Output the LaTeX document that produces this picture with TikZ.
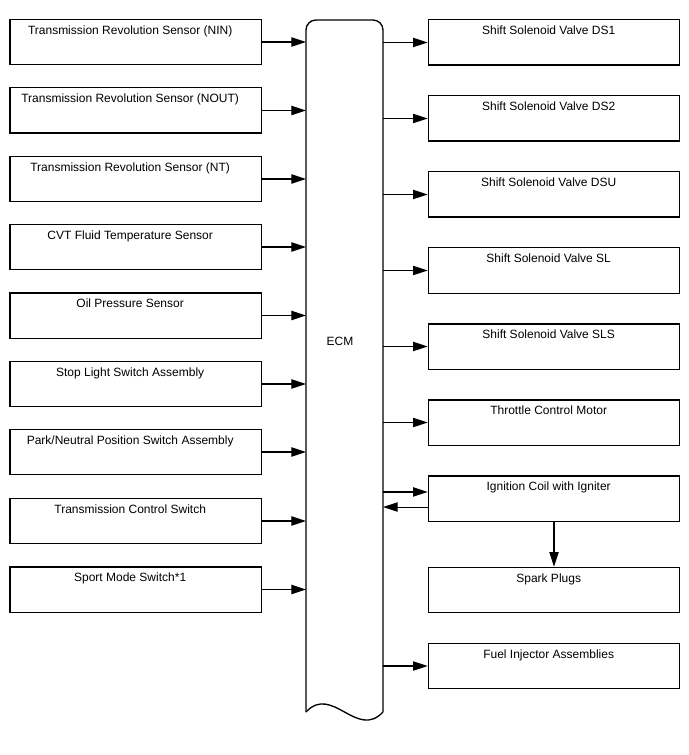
\documentclass[tikz,border=0pt]{standalone}
\usepackage{fontspec}
\setmainfont{Liberation Sans}
\usetikzlibrary{arrows.meta}

\tikzset{
  box/.style={draw, line width=1pt, minimum width=188.5pt, minimum height=34pt, inner sep=0pt},
  boxtext/.style={anchor=north, font=\fontsize{9}{11}\selectfont, xshift=-4pt, yshift=-1.5pt},
  conn/.style={-{Triangle[length=11pt,width=7pt]}, line width=0.8pt},
}

\begin{document}
\begin{tikzpicture}[x=0.75pt,y=-0.75pt]

\useasboundingbox (0,0) rectangle (688,755);

% ECM body
\node[minimum width=57.75pt, minimum height=519pt, inner sep=0pt, outer sep=0pt] (ecm) at (344.5,366) {};
\draw[line width=1pt, rounded corners=7.5pt] (306,712)--(306,20)--(383,20)--(383,712);
\draw[line width=1pt] (383,712) .. controls (357,740) and (332,684) .. (306,712);
\node[font=\fontsize{9}{11}\selectfont] (ecmtext) at (340,341) {ECM};

% inputs
\node[box, label={[boxtext]north:Transmission Revolution Sensor (NIN)}] (nin) at (135.5,42) {};
\node[box, label={[boxtext]north:Transmission Revolution Sensor (NOUT)}] (nout) at (135.5,110.5) {};
\node[box, label={[boxtext]north:Transmission Revolution Sensor (NT)}] (nt) at (135.5,179) {};
\node[box, label={[boxtext]north:CVT Fluid Temperature Sensor}] (cvt) at (135.5,247) {};
\node[box, label={[boxtext]north:Oil Pressure Sensor}] (oil) at (135.5,315.5) {};
\node[box, label={[boxtext]north:Stop Light Switch Assembly}] (stop) at (135.5,384) {};
\node[box, label={[boxtext]north:Park/Neutral Position Switch Assembly}] (park) at (135.5,452) {};
\node[box, label={[boxtext]north:Transmission Control Switch}] (tcs) at (135.5,521) {};
\node[box, label={[boxtext]north:Sport Mode Switch*1}] (sport) at (135.5,589.5) {};

\draw[conn] (nin.east)--(nin.east -| ecm.west);
\draw[conn] (nout.east)--(nout.east -| ecm.west);
\draw[conn] (nt.east)--(nt.east -| ecm.west);
\draw[conn] (cvt.east)--(cvt.east -| ecm.west);
\draw[conn] (oil.east)--(oil.east -| ecm.west);
\draw[conn] (stop.east)--(stop.east -| ecm.west);
\draw[conn] (park.east)--(park.east -| ecm.west);
\draw[conn] (tcs.east)--(tcs.east -| ecm.west);
\draw[conn] (sport.east)--(sport.east -| ecm.west);

% outputs
\node[box, label={[boxtext]north:Shift Solenoid Valve DS1}] (ds1) at (554,42.5) {};
\node[box, label={[boxtext]north:Shift Solenoid Valve DS2}] (ds2) at (554,118.5) {};
\node[box, label={[boxtext]north:Shift Solenoid Valve DSU}] (dsu) at (554,194.5) {};
\node[box, label={[boxtext]north:Shift Solenoid Valve SL}] (sl) at (554,270.5) {};
\node[box, label={[boxtext]north:Shift Solenoid Valve SLS}] (sls) at (554,346.5) {};
\node[box, label={[boxtext]north:Throttle Control Motor}] (thr) at (554,422.5) {};
\node[box, label={[boxtext]north:Ignition Coil with Igniter}] (ign) at (554,498.5) {};
\node[box, label={[boxtext]north:Spark Plugs}] (spark) at (554,590) {};
\node[box, label={[boxtext]north:Fuel Injector Assemblies}] (fuel) at (554,666) {};

\draw[conn] (ds1.west -| ecm.east)--(ds1.west);
\draw[conn] (ds2.west -| ecm.east)--(ds2.west);
\draw[conn] (dsu.west -| ecm.east)--(dsu.west);
\draw[conn] (sl.west -| ecm.east)--(sl.west);
\draw[conn] (sls.west -| ecm.east)--(sls.west);
\draw[conn] (thr.west -| ecm.east)--(thr.west);
\draw[conn] ([yshift=4.9pt]ign.west -| ecm.east)--([yshift=4.9pt]ign.west);
\draw[conn] ([yshift=-6.4pt]ign.west)--([yshift=-6.4pt]ign.west -| ecm.east);
\draw[conn] (ign.south)--(spark.north);
\draw[conn] (fuel.west -| ecm.east)--(fuel.west);

\end{tikzpicture}
\end{document}
